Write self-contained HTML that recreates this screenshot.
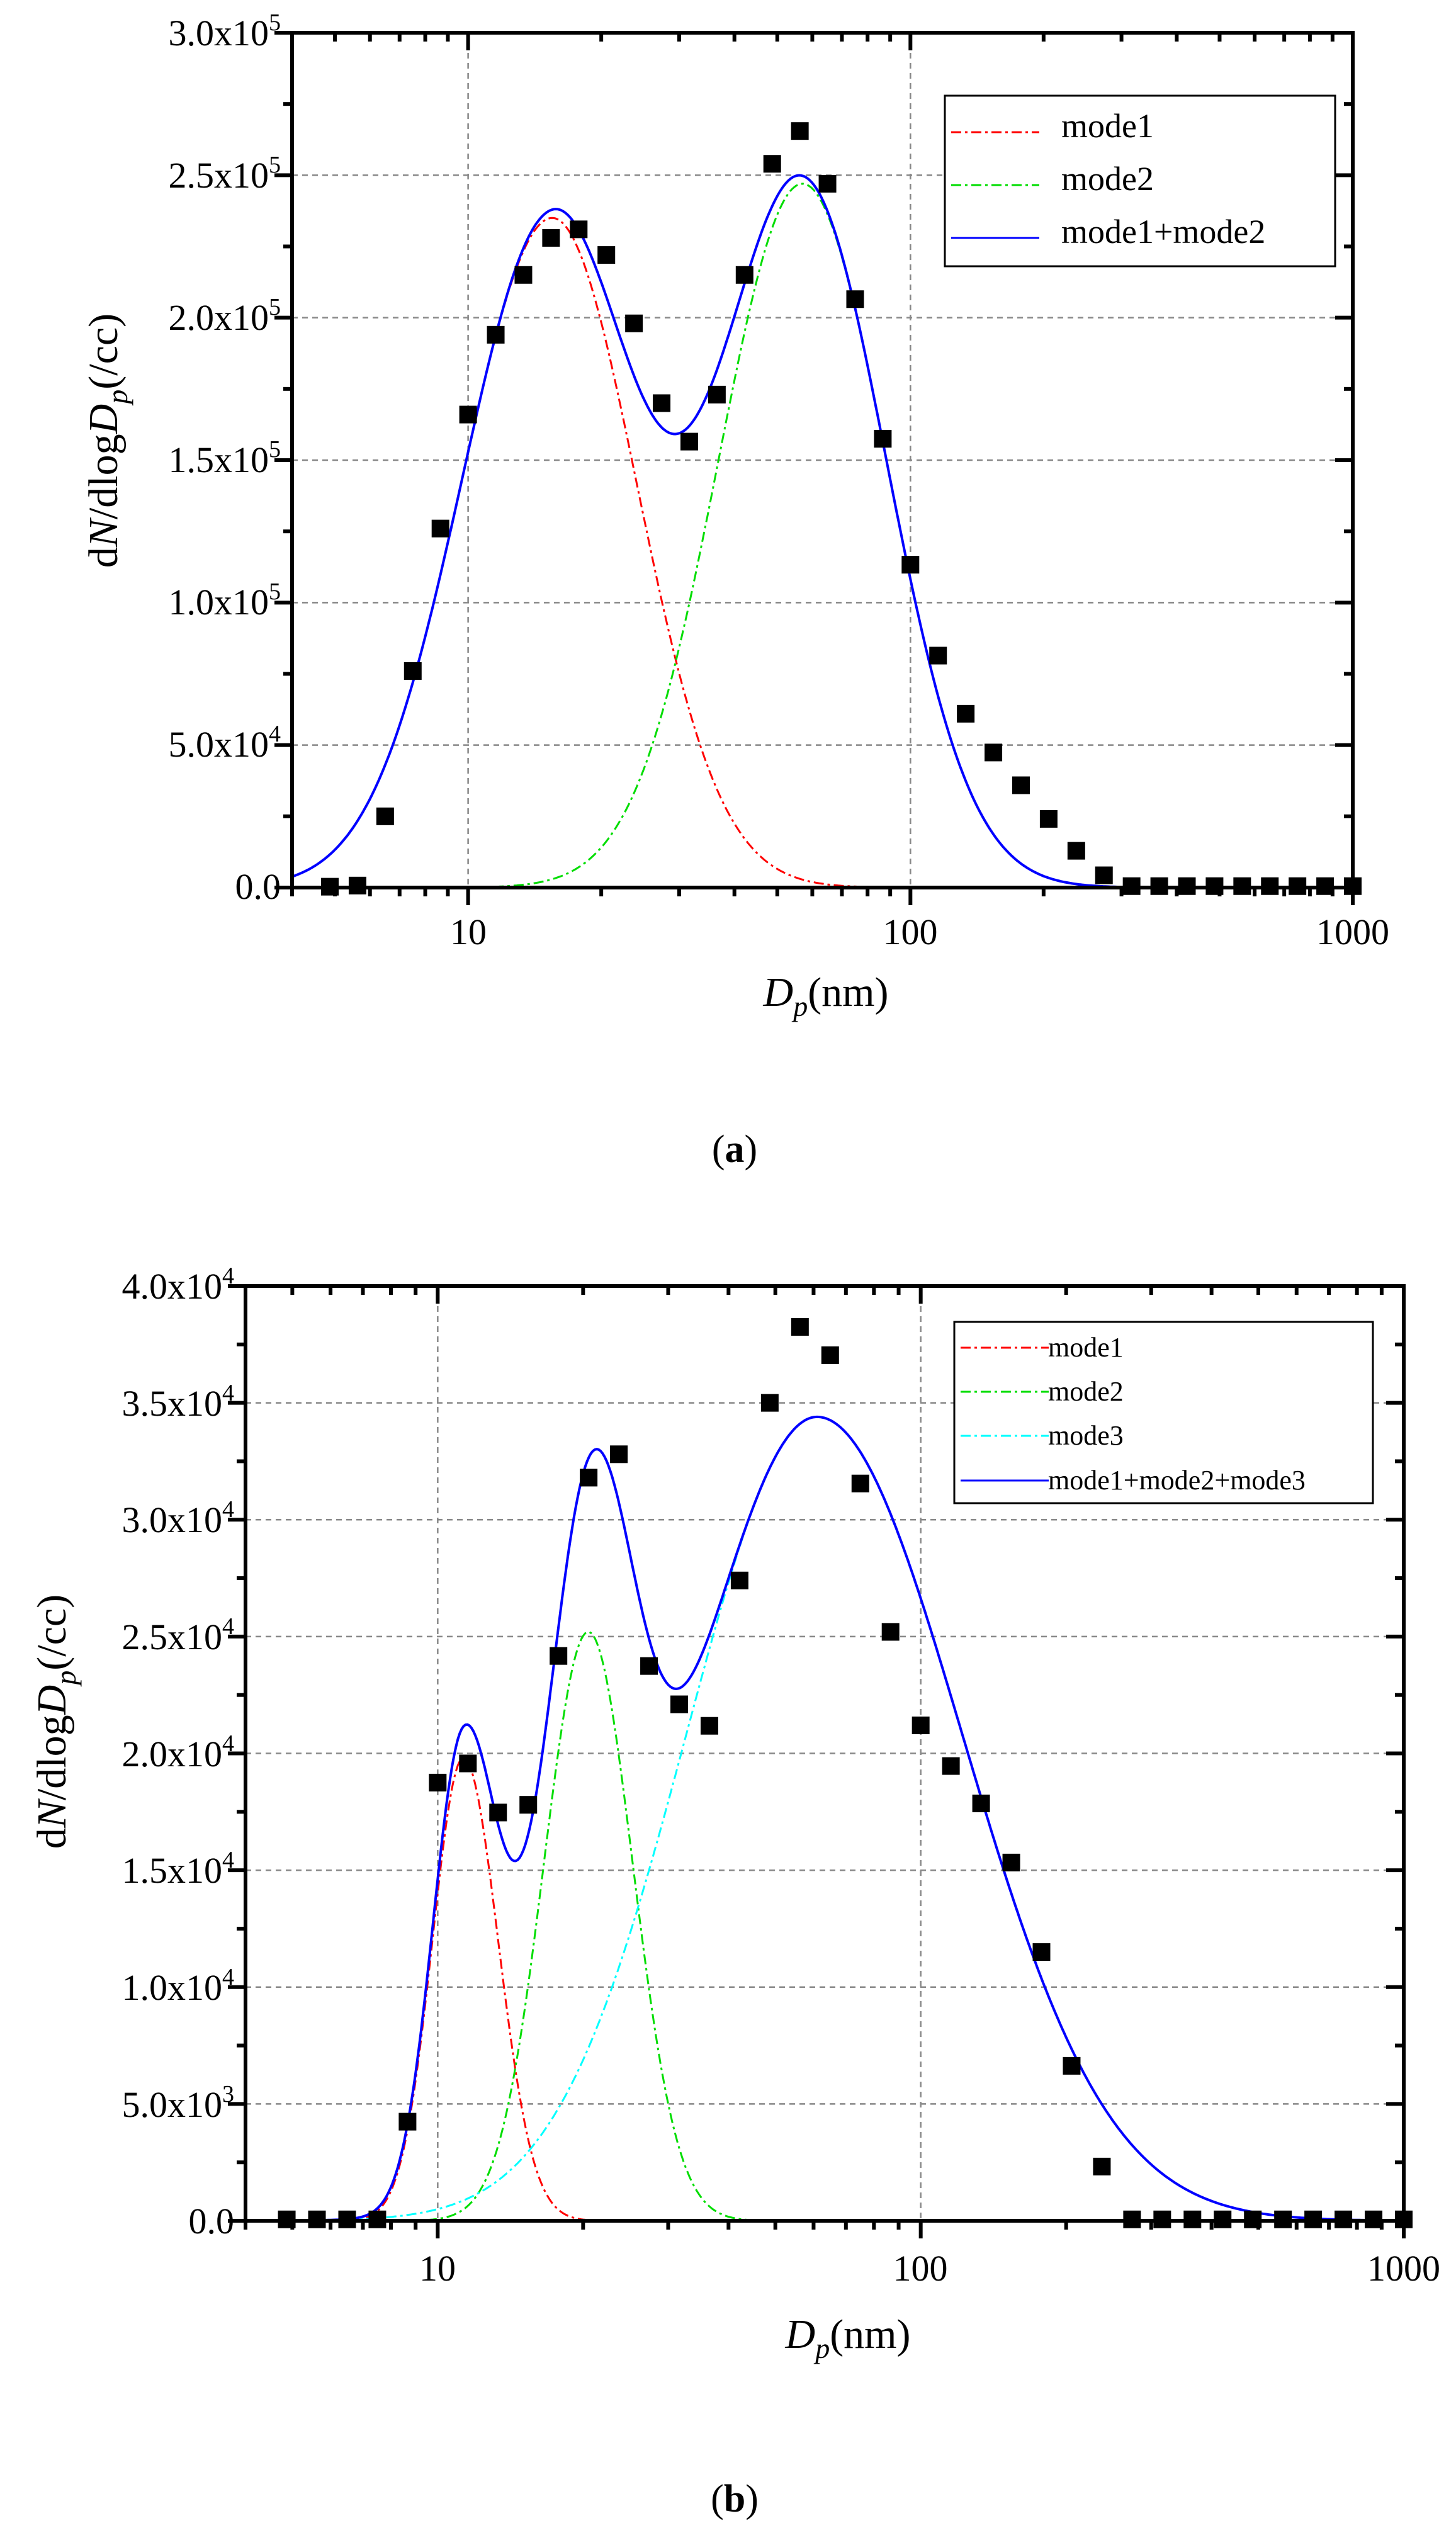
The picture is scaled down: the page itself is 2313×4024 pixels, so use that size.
<!DOCTYPE html>
<html><head><meta charset="utf-8"><style>
html,body{margin:0;padding:0;background:#fff;}
svg{display:block;}
text{font-family:"Liberation Serif",serif;fill:#000;}
</style></head><body>
<svg id="s" width="2313" height="4024" viewBox="0 0 2313 4024" xmlns="http://www.w3.org/2000/svg">
<rect width="2313" height="4024" fill="#fff"/>
<g id="g"></g>
<g font-size="58" text-anchor="end">
<text x="446" y="72">3.0x10<tspan font-size="38" dy="-24">5</tspan></text>
<text x="446" y="298">2.5x10<tspan font-size="38" dy="-24">5</tspan></text>
<text x="446" y="524">2.0x10<tspan font-size="38" dy="-24">5</tspan></text>
<text x="446" y="750">1.5x10<tspan font-size="38" dy="-24">5</tspan></text>
<text x="446" y="976">1.0x10<tspan font-size="38" dy="-24">5</tspan></text>
<text x="446" y="1202">5.0x10<tspan font-size="38" dy="-24">4</tspan></text>
<text x="446" y="1428">0.0</text>
</g>
<g font-size="58" text-anchor="middle">
<text x="744" y="1500">10</text>
<text x="1446" y="1500">100</text>
<text x="2149" y="1500">1000</text>
</g>
<text x="1312" y="1598" font-size="66" text-anchor="middle"><tspan font-style="italic">D</tspan><tspan font-style="italic" font-size="46" dy="16">p</tspan><tspan dy="-16">(nm)</tspan></text>
<text transform="translate(186,700) rotate(-90)" font-size="66" text-anchor="middle">d<tspan font-style="italic">N</tspan>/dlog<tspan font-style="italic">D</tspan><tspan font-style="italic" font-size="46" dy="16">p</tspan><tspan dy="-16">(/cc)</tspan></text>
<text x="1167" y="1846" font-size="62" text-anchor="middle">(<tspan font-weight="bold">a</tspan>)</text>
<g font-size="54">
<text x="1686" y="218">mode1</text>
<text x="1686" y="302">mode2</text>
<text x="1686" y="386">mode1+mode2</text>
</g>
<g font-size="58" text-anchor="end">
<text x="372" y="2063">4.0x10<tspan font-size="38" dy="-24">4</tspan></text>
<text x="372" y="2249">3.5x10<tspan font-size="38" dy="-24">4</tspan></text>
<text x="372" y="2434">3.0x10<tspan font-size="38" dy="-24">4</tspan></text>
<text x="372" y="2620">2.5x10<tspan font-size="38" dy="-24">4</tspan></text>
<text x="372" y="2806">2.0x10<tspan font-size="38" dy="-24">4</tspan></text>
<text x="372" y="2991">1.5x10<tspan font-size="38" dy="-24">4</tspan></text>
<text x="372" y="3177">1.0x10<tspan font-size="38" dy="-24">4</tspan></text>
<text x="372" y="3363">5.0x10<tspan font-size="38" dy="-24">3</tspan></text>
<text x="372" y="3548">0.0</text>
</g>
<g font-size="58" text-anchor="middle">
<text x="695" y="3623">10</text>
<text x="1462" y="3623">100</text>
<text x="2230" y="3623">1000</text>
</g>
<text x="1347" y="3730" font-size="66" text-anchor="middle"><tspan font-style="italic">D</tspan><tspan font-style="italic" font-size="46" dy="16">p</tspan><tspan dy="-16">(nm)</tspan></text>
<text transform="translate(104,2735) rotate(-90)" font-size="66" text-anchor="middle">d<tspan font-style="italic">N</tspan>/dlog<tspan font-style="italic">D</tspan><tspan font-style="italic" font-size="46" dy="16">p</tspan><tspan dy="-16">(/cc)</tspan></text>
<text x="1167" y="3990" font-size="62" text-anchor="middle">(<tspan font-weight="bold">b</tspan>)</text>
<g font-size="44">
<text x="1665" y="2155">mode1</text>
<text x="1665" y="2225">mode2</text>
<text x="1665" y="2295">mode3</text>
<text x="1665" y="2366">mode1+mode2+mode3</text>
</g>
</svg>
<script>
(function(){
var NS="http://www.w3.org/2000/svg",G=document.getElementById("g");
function el(t,a){var e=document.createElementNS(NS,t);for(var k in a)e.setAttribute(k,a[k]);G.appendChild(e);return e;}
function ln(x1,y1,x2,y2,w,c,d){var a={x1:x1,y1:y1,x2:x2,y2:y2,stroke:c||"#000","stroke-width":w};if(d)a["stroke-dasharray"]=d;el("line",a);}
function ln10(x){return Math.log(x)/Math.LN10;}
function plot(P){
 var X=function(v){return P.L+(ln10(v)-ln10(4))/(3-ln10(4))*(P.R-P.L);};
 var Y=function(v){return P.B-v/P.ymax*(P.B-P.T);};
 for(var i=1;i<P.ny;i++){var y=Y(i*P.ystep);ln(P.L,y,P.R,y,2.5,"#888","9,7");}
 [10,100].forEach(function(v){ln(X(v),P.T,X(v),P.B,2.5,"#888","9,7");});
 P.curves.forEach(function(c){
  var d="";for(var i=0;i<=600;i++){var lx=ln10(4)+i/600*(3-ln10(4));var v=c.f(Math.pow(10,lx));d+=(i?"L":"M")+X(Math.pow(10,lx)).toFixed(1)+" "+Y(v).toFixed(1);}
  var a={d:d,fill:"none",stroke:c.c,"stroke-width":c.w};if(c.d)a["stroke-dasharray"]=c.d;el("path",a);
 });
 for(var k=-5;k<=32;k++){var v=P.pts[k+5];var x=X(Math.pow(10,1+k/16)),y=Y(v);
  el("rect",{x:x-14,y:y-14,width:28,height:28,fill:"#000"});}
 el("rect",{x:P.L,y:P.T,width:P.R-P.L,height:P.B-P.T,fill:"none",stroke:"#000","stroke-width":6});
 for(var i=0;i<=P.ny*2;i++){var y=Y(i*P.ystep/2);var len=(i%2==0)?28:14;
  ln(P.L-len,y,P.L,y,6);ln(P.R-len,y,P.R,y,6);}
 var xs=[];for(var v=4;v<10;v++)xs.push([v,0]);xs.push([10,1]);for(var v=20;v<100;v+=10)xs.push([v,0]);xs.push([100,1]);for(var v=200;v<1000;v+=100)xs.push([v,0]);xs.push([1000,1]);
 xs.forEach(function(t){var x=X(t[0]);var len=t[1]?28:14;ln(x,P.B,x,P.B+len,6);ln(x,P.T,x,P.T+len,6);});
 el("rect",{x:P.lg[0],y:P.lg[1],width:P.lg[2]-P.lg[0],height:P.lg[3]-P.lg[1],fill:"#fff",stroke:"#000","stroke-width":3});
 P.leg.forEach(function(l){var a={x1:P.lg[0]+10,x2:P.lg[0]+150,y1:l[0],y2:l[0],stroke:l[1],"stroke-width":3};if(l[2])a["stroke-dasharray"]=l[2];el("line",a);});
}
function gs(A,m,s,s2){return function(x){var d=ln10(x)-ln10(m);var ss=(d>0&&s2)?s2:s;return A*Math.exp(-d*d/(2*ss*ss));};}
var DD="16,6,4,6";
var a1=gs(2.35e5,15.5,0.205,0.19),a2=gs(2.47e5,57,0.19);
plot({L:464,R:2149,T:52,B:1410,ymax:3e5,ystep:5e4,ny:6,
 curves:[{f:a1,c:"#f00",w:3,d:DD},{f:a2,c:"#0d0",w:3,d:DD},{f:function(x){return a1(x)+a2(x);},c:"#00f",w:4}],
 pts:[300,700,2.5e4,7.6e4,1.26e5,1.66e5,1.94e5,2.15e5,2.28e5,2.31e5,2.22e5,1.98e5,1.70e5,1.565e5,1.73e5,2.15e5,2.54e5,2.655e5,2.47e5,2.065e5,1.575e5,1.133e5,8.14e4,6.1e4,4.74e4,3.59e4,2.41e4,1.29e4,4300,500,500,500,500,500,500,500,500,500],
 lg:[1501,152,2121,423],leg:[[210,"#f00",DD],[294,"#0d0",DD],[378,"#00f"]]});
var b1=gs(1.98e4,11.3,0.064,0.072),b2=gs(2.52e4,20.5,0.092),b3=gs(3.44e4,61,0.27,0.30);
plot({L:390,R:2230,T:2043,B:3528,ymax:4e4,ystep:5e3,ny:8,
 curves:[{f:b1,c:"#f00",w:3,d:DD},{f:b2,c:"#0d0",w:3,d:DD},{f:b3,c:"#0ff",w:3,d:DD},{f:function(x){return b1(x)+b2(x)+b3(x);},c:"#00f",w:4}],
 pts:[60,60,60,60,4240,1.875e4,1.957e4,1.747e4,1.78e4,2.417e4,3.18e4,3.28e4,2.374e4,2.21e4,2.118e4,2.74e4,3.5e4,3.825e4,3.704e4,3.155e4,2.52e4,2.12e4,1.946e4,1.786e4,1.533e4,1.15e4,6630,2320,60,60,60,60,60,60,60,60,60,60],
 lg:[1516,2100,2181,2388],leg:[[2141,"#f00",DD],[2211,"#0d0",DD],[2281,"#0ff",DD],[2352,"#00f"]]});
})();
</script>
</body></html>
